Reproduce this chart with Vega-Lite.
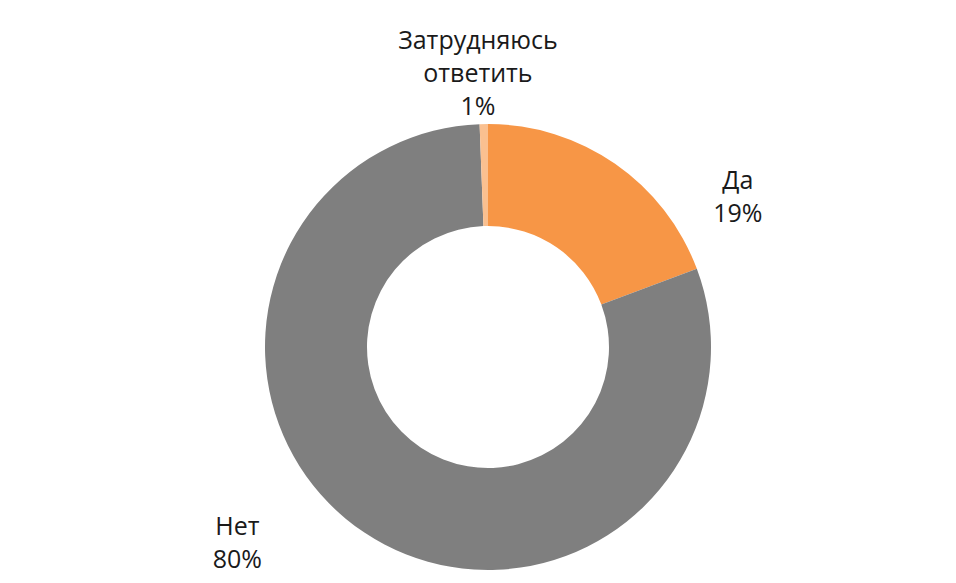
{
  "$schema": "https://vega.github.io/schema/vega-lite/v6.json",
  "width": 446,
  "height": 446,
  "autosize": {"type": "none"},
  "padding": {"left": 265, "top": 124, "right": 245, "bottom": 13},
  "background": "white",
  "config": {"view": {"stroke": null}},
  "data": {
    "values": [
      {"rank": 1, "category": "Да", "value": 19.3, "label": "Да\n19%"},
      {"rank": 2, "category": "Нет", "value": 80.1, "label": "Нет\n80%"},
      {"rank": 3, "category": "Затрудняюсь", "value": 0.6, "label": "Затрудняюсь\nответить\n1%"}
    ]
  },
  "encoding": {
    "theta": {"field": "value", "type": "quantitative", "stack": true},
    "order": {"field": "rank", "type": "quantitative", "sort": "ascending"},
    "color": {
      "field": "category",
      "type": "nominal",
      "scale": {"domain": ["Да", "Нет", "Затрудняюсь"], "range": ["#F79646", "#7F7F7F", "#FAC090"]},
      "legend": null
    }
  },
  "layer": [
    {"mark": {"type": "arc", "innerRadius": 121, "outerRadius": 223}},
    {
      "mark": {
        "type": "text",
        "radius": 270,
        "font": "Open Sans",
        "fontSize": 25,
        "lineHeight": 33,
        "lineBreak": "\n",
        "align": "center",
        "baseline": "middle",
        "fill": "#1a1a1a",
        "dx": {"expr": "datum.category === 'Да' ? 96 : datum.category === 'Нет' ? -101 : -5"},
        "dy": {"expr": "datum.category === 'Да' ? 56 : datum.category === 'Нет' ? -45 : -36"}
      },
      "encoding": {
        "text": {"field": "label"},
        "color": {"value": "#1a1a1a"}
      }
    }
  ]
}
